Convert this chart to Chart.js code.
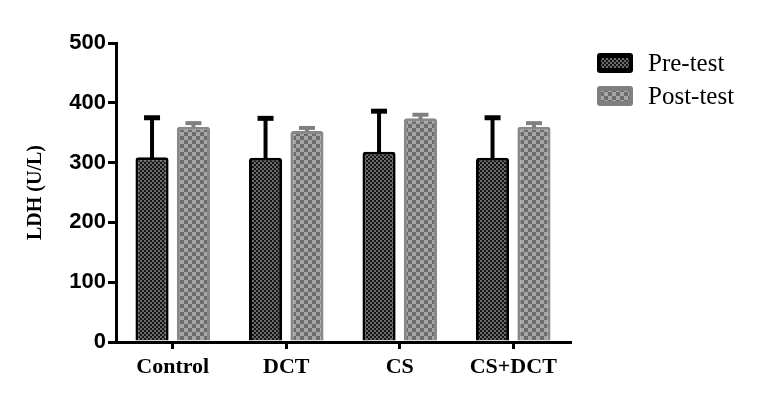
<!DOCTYPE html>
<html>
<head>
<meta charset="utf-8">
<script src="https://cdn.jsdelivr.net/npm/chart.js@4"></script>
<style>
  html, body { margin: 0; padding: 0; background: #fff; }
  #wrap { width: 763px; height: 403px; position: relative; }
</style>
</head>
<body>
<div id="wrap"><canvas id="chart" width="763" height="403"></canvas></div>
<script>
// LDH pre/post bar chart with upper error bars

const categories = ['Control', 'DCT', 'CS', 'CS+DCT'];
const preTest = [309, 308, 318, 308];
const preErr = [66, 66, 68, 67];
const postTest = [360, 353, 374, 360];
const postErr = [6, 5, 6, 6];
const yTicks = [0, 100, 200, 300, 400, 500];

function checker(size, a, b) {
  const c = document.createElement('canvas');
  c.width = c.height = size * 2;
  const g = c.getContext('2d');
  g.fillStyle = a; g.fillRect(0, 0, size * 2, size * 2);
  g.fillStyle = b;
  g.fillRect(0, 0, size, size);
  g.fillRect(size, size, size, size);
  return g.createPattern(c, 'repeat');
}

const ctx = document.getElementById('chart').getContext('2d');
const prePattern = checker(2, '#141414', '#6a6a6a');
const postPattern = checker(4, '#6c6c6c', '#a6a6a6');

const errors = [preErr, postErr];
const errColors = ['#000', '#808080'];

// ── Error bars (upper half only) ─────────────────────────────────────────────
const errorBars = {
  id: 'errorBars',
  afterDatasetsDraw(chart) {
    const c = chart.ctx, y = chart.scales.y;
    chart.data.datasets.forEach((ds, i) => {
      const meta = chart.getDatasetMeta(i);
      meta.data.forEach((bar, j) => {
        const top = y.getPixelForValue(ds.data[j] + errors[i][j]);
        c.save();
        c.strokeStyle = errColors[i];
        c.lineWidth = 4;
        c.beginPath();
        c.moveTo(bar.x, bar.y + 1);
        c.lineTo(bar.x, top);
        c.stroke();
        c.lineWidth = i === 0 ? 5 : 4;
        c.beginPath();
        c.moveTo(bar.x - 8, top);
        c.lineTo(bar.x + 8, top);
        c.stroke();
        c.restore();
      });
    });
  }
};

// ── Legend on the right ──────────────────────────────────────────────────────
const sideLegend = {
  id: 'sideLegend',
  afterDraw(chart) {
    const c = chart.ctx;
    const items = [
      { label: 'Pre-test', fill: prePattern, border: '#000', y: 63 },
      { label: 'Post-test', fill: postPattern, border: '#808080', y: 96 },
    ];
    c.save();
    items.forEach(it => {
      c.fillStyle = it.border;
      c.beginPath();
      c.roundRect(597, it.y - 10, 36, 20, 3);
      c.fill();
      c.fillStyle = it.fill;
      c.fillRect(601, it.y - 5, 28, 10);
      c.fillStyle = '#000';
      c.font = '25px "Liberation Serif", serif';
      c.textBaseline = 'middle';
      c.fillText(it.label, 648, it.y + 1);
    });
    c.restore();
  }
};

new Chart(ctx, {
  type: 'bar',
  data: {
    labels: categories,
    datasets: [
      {
        label: 'Pre-test', data: preTest,
        backgroundColor: prePattern, borderColor: '#000',
        borderWidth: 3, borderRadius: 3,
      },
      {
        label: 'Post-test', data: postTest,
        backgroundColor: postPattern, borderColor: '#888',
        borderWidth: 3, borderRadius: 3,
      }
    ]
  },
  options: {
    responsive: false,
    animation: false,
    events: [],
    layout: { padding: { left: 0, top: 43, right: 193, bottom: 0 } },
    datasets: { bar: { categoryPercentage: 0.73, barPercentage: 0.8 } },
    plugins: { legend: { display: false }, tooltip: { enabled: false } },
    scales: {
      x: {
        offset: true,
        afterFit: s => { s.height = 61; },
        border: { color: '#000', width: 3 },
        grid: { offset: false, drawOnChartArea: false, drawTicks: true, tickLength: 7, color: '#000', lineWidth: 3 },
        ticks: {
          color: '#000', padding: 5,
          font: { family: '"Liberation Serif", serif', size: 22, weight: 'bold' }
        }
      },
      y: {
        min: 0, max: 500,
        afterFit: s => { s.width = 116; },
        afterBuildTicks: s => { s.ticks = yTicks.map(v => ({ value: v })); },
        border: { color: '#000', width: 3 },
        grid: { drawOnChartArea: false, drawTicks: true, tickLength: 8, color: '#000', lineWidth: 3 },
        ticks: {
          color: '#000', padding: 2,
          font: { family: '"Liberation Sans", Arial, sans-serif', size: 22, weight: 'bold' }
        },
        title: {
          display: true, text: 'LDH (U/L)', color: '#000',
          padding: { top: 24, bottom: 0 },
          font: { family: '"Liberation Serif", serif', size: 20, weight: 'bold' }
        }
      }
    }
  },
  plugins: [errorBars, sideLegend]
});
</script>
</body>
</html>
